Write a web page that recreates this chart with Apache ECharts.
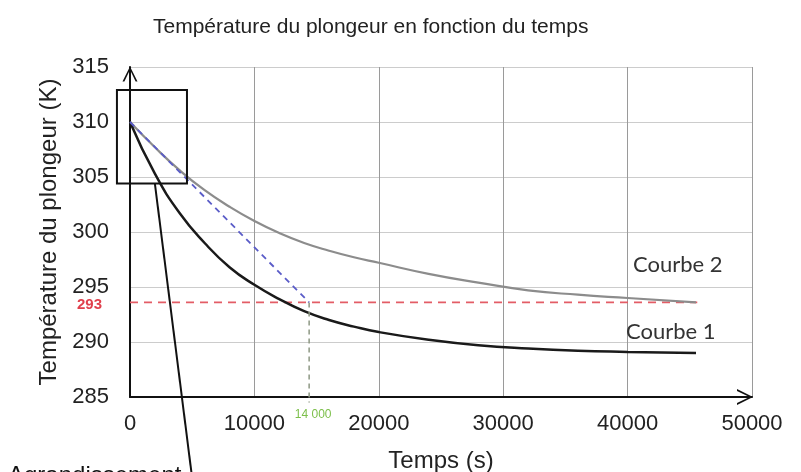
<!DOCTYPE html>
<html>
<head>
<meta charset="utf-8">
<script src="https://cdn.jsdelivr.net/npm/echarts@6.0.0/dist/echarts.min.js"></script>
<style>
html, body { margin: 0; background: #fff; }
#chart { width: 801px; height: 472px; }
</style>
</head>
<body>
<div id="chart"></div>
<script>
// temps (s) et températures
const times   = [0, 2000, 4000, 6000, 8000, 10000, 12000, 14000, 16000, 18000, 20000, 24000, 28000, 32000, 36000, 40000, 45500];
const courbe1 = [310, 305.3, 301.7, 299.0, 296.8, 295.2, 293.9, 292.8, 292.0, 291.4, 290.9, 290.2, 289.7, 289.4, 289.2, 289.1, 289.0];
const courbe2 = [310, 307.7, 305.6, 303.8, 302.3, 301.0, 299.9, 299.0, 298.3, 297.7, 297.2, 296.2, 295.4, 294.7, 294.3, 294.0, 293.6];

// droites de construction
const seuilT = [0, 45600];
const seuilY = [293.6, 293.6];
const tangenteT = [0, 14400];
const tangenteY = [310, 293.6];
const verticaleT = [14400, 14400];
const verticaleY = [293.6, 284.5];

const xTicks = [0, 10000, 20000, 30000, 40000, 50000];
const yTicks = [285, 290, 295, 300, 305, 310, 315];

const pairs = (xs, ys) => xs.map((x, i) => [x, ys[i]]);

const font = 'Liberation Sans, Arial, sans-serif';
const arrow = 'path://M0,16 L8,0 L16,16 L14,16 L8,3.5 L2,16 Z';

var myChart = echarts.init(document.getElementById('chart'));

let option = {
    backgroundColor: '#fff',
    animation: false,
    title: {
        text: 'Température du plongeur en fonction du temps',
        left: 153,
        top: 17,
        padding: 0,
        textStyle: { fontFamily: font, fontSize: 21, fontWeight: 'normal', color: '#222' }
    },
    grid: { left: 130, right: 49, top: 67, bottom: 75, outerBoundsMode: 'none', containLabel: false },
    xAxis: {
        type: 'value',
        min: xTicks[0],
        max: xTicks[xTicks.length - 1],
        interval: xTicks[1] - xTicks[0],
        name: 'Temps (s)',
        nameLocation: 'middle',
        nameGap: 52,
        nameTextStyle: { fontFamily: font, fontSize: 24, color: '#222' },
        axisLine: {
            show: true,
            symbol: ['none', arrow],
            symbolSize: [16, 16],
            symbolOffset: [0, -7],
            lineStyle: { color: '#111', width: 2 }
        },
        axisTick: { show: false },
        axisLabel: {
            margin: 16,
            fontFamily: font,
            fontSize: 22,
            color: '#222',
            formatter: v => String(v)
        },
        splitLine: { show: true, lineStyle: { color: '#9a9a9a', width: 1 } }
    },
    yAxis: {
        type: 'value',
        min: yTicks[0],
        max: yTicks[yTicks.length - 1],
        interval: yTicks[1] - yTicks[0],
        name: 'Température du plongeur (K)',
        nameLocation: 'middle',
        nameGap: 68,
        nameTextStyle: { fontFamily: font, fontSize: 24, color: '#222' },
        axisLine: {
            show: true,
            symbol: ['none', arrow],
            symbolSize: [15, 15],
            symbolOffset: [0, -7],
            lineStyle: { color: '#111', width: 2 }
        },
        axisTick: { show: false },
        axisLabel: {
            margin: 21,
            fontFamily: font,
            fontSize: 22,
            color: '#222'
        },
        splitLine: { show: true, lineStyle: { color: '#cccccc', width: 1 } }
    },
    series: [
        {
            name: 'seuil',
            type: 'line',
            data: pairs(seuilT, seuilY),
            showSymbol: false,
            lineStyle: { color: '#e35d66', width: 1.8, type: [8, 6] },
            z: 1
        },
        {
            name: 'Courbe 2',
            type: 'line',
            data: pairs(times, courbe2),
            smooth: true,
            showSymbol: false,
            lineStyle: { color: '#8c8c8c', width: 2.2 },
            z: 2
        },
        {
            name: 'Courbe 1',
            type: 'line',
            data: pairs(times, courbe1),
            smooth: true,
            showSymbol: false,
            lineStyle: { color: '#1a1a1a', width: 2.5 },
            z: 3
        },
        {
            name: 'tangente',
            type: 'line',
            data: pairs(tangenteT, tangenteY),
            showSymbol: false,
            lineStyle: { color: '#5a5cc8', width: 1.8, type: [6, 5] },
            z: 4
        },
        {
            name: 'verticale',
            type: 'line',
            data: pairs(verticaleT, verticaleY),
            showSymbol: false,
            clip: false,
            lineStyle: { color: '#8d9884', width: 1.5, type: [5, 4] },
            z: 4
        }
    ]
};
myChart.setOption(option);

// annotations placées depuis les coordonnées du graphe
const px = (x, y) => myChart.convertToPixel({ gridIndex: 0 }, [x, y]);
const boxA = px(-1050, 312.9);
const boxB = px(4580, 304.4);
const lead = px(2000, 304.4);
const seuilPx = px(0, seuilY[0]);
const vertPx = px(verticaleT[0], yTicks[0]);
const c2 = px(40430, 297);
const c1 = px(39870, 290.9);

myChart.setOption({
    graphic: [
        {
            type: 'rect',
            shape: { x: boxA[0], y: boxA[1], width: boxB[0] - boxA[0], height: boxB[1] - boxA[1] },
            style: { fill: 'none', stroke: '#111', lineWidth: 2 },
            z: 10
        },
        {
            type: 'line',
            shape: { x1: lead[0], y1: lead[1], x2: lead[0] + 37, y2: 476 },
            style: { stroke: '#111', lineWidth: 2 },
            z: 10
        },
        {
            type: 'text',
            x: seuilPx[0] - 28, y: seuilPx[1] + 2,
            style: { text: '293', fill: '#e0404c', font: 'bold 15px ' + font, align: 'right', verticalAlign: 'middle' }
        },
        {
            type: 'text',
            x: vertPx[0] + 4, y: vertPx[1] + 18,
            style: { text: '14 000', fill: '#7cbf4a', font: '12px ' + font, align: 'center', verticalAlign: 'middle' }
        },
        {
            type: 'text',
            x: c2[0], y: c2[1],
            style: { text: 'Courbe 2', fill: '#333', font: '22px Lato, sans-serif', verticalAlign: 'middle' }
        },
        {
            type: 'text',
            x: c1[0], y: c1[1],
            style: { text: 'Courbe 1', fill: '#333', font: '22px Lato, sans-serif', verticalAlign: 'middle' }
        },
        {
            type: 'text',
            x: 8, y: 464,
            style: { text: 'Agrandissement', fill: '#111', font: '24px ' + font }
        }
    ]
});
</script>
</body>
</html>
